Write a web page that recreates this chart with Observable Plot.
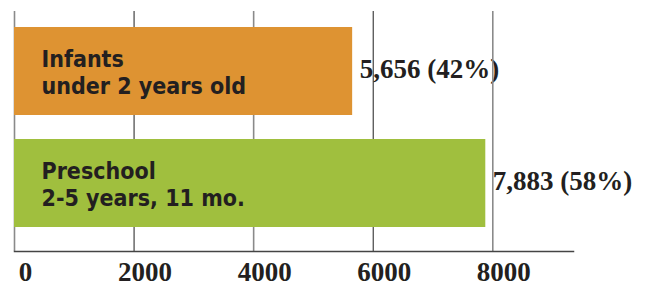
<!DOCTYPE html>
<html>
<head>
<meta charset="utf-8">
<script src="https://cdn.jsdelivr.net/npm/d3@7"></script>
<script src="https://cdn.jsdelivr.net/npm/@observablehq/plot@0.6"></script>
<style>
  html, body { margin: 0; padding: 0; background: #fff; }
</style>
</head>
<body>
<div id="chart"></div>
<script>
const categories = ["Infants\nunder 2 years old", "Preschool\n2-5 years, 11 mo."];
const counts = [5656, 7883];
const shares = [42, 58];
const xTicks = [0, 2000, 4000, 6000, 8000];

const data = categories.map((c, i) => ({category: c, count: counts[i], share: shares[i]}));

const serif = "'Liberation Serif', 'DejaVu Serif', serif";
const sans = "'DejaVu Sans Condensed', 'Liberation Sans', sans-serif";

const chart = Plot.plot({
  width: 653,
  height: 287,
  marginTop: 11,
  marginBottom: 36,
  marginLeft: 14,
  marginRight: 80,
  x: {domain: [0, 9350], axis: null},
  y: {domain: categories, axis: null, range: [27, 227], paddingInner: 0.2143, paddingOuter: 0, round: false},
  color: {domain: categories, range: ["#DE9332", "#A0BF3E"]},
  style: {background: "white", color: "#231f20", overflow: "visible"},
  marks: [
    Plot.text(data, {
      x: "count", y: "category",
      text: d => d3.format(",")(d.count) + " (" + d.share + "%)",
      dx: 7, dy: -2, textAnchor: "start",
      fontFamily: serif, fontWeight: "bold", fontSize: 27, fill: "#231f20"
    }),
    Plot.ruleX(xTicks.filter(t => t && (t / 2000) % 2 === 1), {stroke: "#1e1e1e", strokeWidth: 1}),
    Plot.ruleX(xTicks.filter(t => t && (t / 2000) % 2 === 0), {stroke: "#8a8a8a", strokeWidth: 1.6}),
    Plot.ruleX([0], {stroke: "#8a8a8a", strokeWidth: 1.6}),
    Plot.barX(data, {x: "count", y: "category", fill: "category"}),
    Plot.frame({anchor: "bottom", stroke: "#444", strokeWidth: 1.5}),
    Plot.text(data, {
      x: 0, y: "category", text: "category",
      dx: 27, textAnchor: "start", lineAnchor: "middle", lineHeight: 1.2,
      fontFamily: sans, fontWeight: "bold", fontSize: 23, fill: "#231f20"
    }),
    Plot.axisX(xTicks, {
      tickSize: 0, tickPadding: 10, dx: 11, label: null,
      fontFamily: serif, fontWeight: "bold", fontSize: 27, fill: "#231f20",
      tickFormat: d => String(d)
    })
  ]
});
document.getElementById("chart").appendChild(chart);
</script>
</body>
</html>
